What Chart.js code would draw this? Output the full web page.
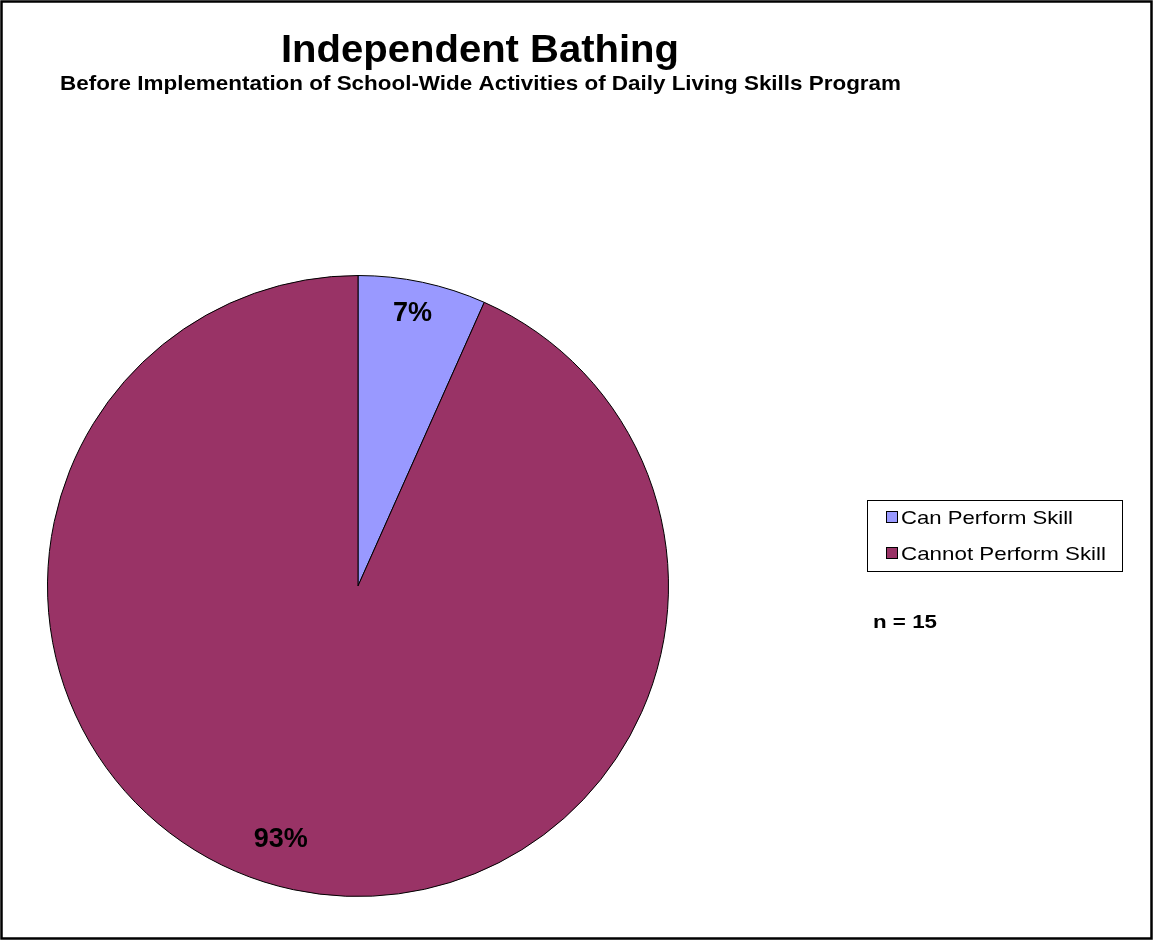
<!DOCTYPE html>
<html>
<head>
<meta charset="utf-8">
<title>Independent Bathing</title>
<script src="https://cdn.jsdelivr.net/npm/chart.js@4/dist/chart.umd.min.js"></script>
<style>
  html, body { margin: 0; padding: 0; background: #ffffff; }
  #wrap { width: 1153px; height: 940px; position: relative; }
  canvas { display: block; }
</style>
</head>
<body>
<div id="wrap"><canvas id="pie" width="1153" height="940"></canvas></div>
<script>
// Student counts (n = 15)
const categories = ['Can Perform Skill', 'Cannot Perform Skill'];
const studentCounts = [1, 14];
const sliceColors = ['#9999FF', '#993366'];

const titleText = 'Independent Bathing';
const subtitleText = 'Before Implementation of School-Wide Activities of Daily Living Skills Program';

const totalStudents = studentCounts.reduce((a, b) => a + b, 0);
const percentLabels = studentCounts.map(v => Math.round(v / totalStudents * 100) + '%');

// Placement of each percentage inside its slice:
// fraction along the slice's sweep and fraction of the radius
const labelSweep = [0.47, 0.515];
const labelRadius = [0.897, 0.85];

const FONT = '"Liberation Sans", Arial, Helvetica, sans-serif';

// draws text stretched/condensed horizontally to occupy a given width
function fillFit(ctx, text, x, y, width, font) {
  ctx.save();
  ctx.font = font;
  ctx.textAlign = 'left';
  ctx.textBaseline = 'alphabetic';
  const w = ctx.measureText(text).width;
  ctx.translate(x, y);
  ctx.scale(width / w, 1);
  ctx.fillText(text, 0, 0);
  ctx.restore();
}

const decorations = {
  id: 'decorations',
  afterDraw(chart) {
    const ctx = chart.ctx;
    ctx.save();

    // outer frame
    ctx.strokeStyle = '#000000';
    ctx.lineWidth = 2.5;
    ctx.strokeRect(1.5, 1.5, 1150, 937);

    // titles
    ctx.fillStyle = '#000000';
    fillFit(ctx, titleText, 281, 62, 398, 'bold 38px ' + FONT);
    fillFit(ctx, subtitleText, 60, 90, 841, 'bold 21px ' + FONT);

    // percentage labels placed inside each slice
    const meta = chart.getDatasetMeta(0);
    meta.data.forEach((arc, i) => {
      const p = arc.getProps(['x', 'y', 'startAngle', 'endAngle', 'outerRadius'], true);
      const a = p.startAngle + (p.endAngle - p.startAngle) * labelSweep[i];
      const r = p.outerRadius * labelRadius[i];
      const lx = p.x + Math.cos(a) * r;
      const ly = p.y + Math.sin(a) * r;
      ctx.font = 'bold 27px ' + FONT;
      ctx.textAlign = 'center';
      ctx.textBaseline = 'middle';
      ctx.fillStyle = '#000000';
      ctx.fillText(percentLabels[i], lx, ly + 1);
    });

    // legend box
    ctx.lineWidth = 1;
    ctx.strokeStyle = '#000000';
    ctx.fillStyle = '#ffffff';
    ctx.fillRect(867.5, 500.5, 255, 71);
    ctx.strokeRect(867.5, 500.5, 255, 71);
    const rowY = [517, 553];
    const textW = [172, 205];
    categories.forEach((name, i) => {
      ctx.fillStyle = sliceColors[i];
      ctx.fillRect(886.5, rowY[i] - 5.5, 11, 11);
      ctx.strokeStyle = '#000000';
      ctx.strokeRect(886.5, rowY[i] - 5.5, 11, 11);
      ctx.fillStyle = '#000000';
      fillFit(ctx, name, 901, rowY[i] + 7, textW[i], '19px ' + FONT);
    });

    // sample size note
    fillFit(ctx, 'n = ' + totalStudents, 873, 628, 64, 'bold 19px ' + FONT);

    ctx.restore();
  }
};

new Chart(document.getElementById('pie'), {
  type: 'pie',
  data: {
    labels: categories,
    datasets: [{
      data: studentCounts,
      backgroundColor: sliceColors,
      borderColor: '#000000',
      borderWidth: 1
    }]
  },
  options: {
    responsive: false,
    animation: false,
    devicePixelRatio: 1,
    layout: { padding: { left: 47, top: 275, right: 484, bottom: 43 } },
    plugins: {
      legend: { display: false },
      title: { display: false },
      tooltip: { enabled: false }
    }
  },
  plugins: [decorations]
});
</script>
</body>
</html>
